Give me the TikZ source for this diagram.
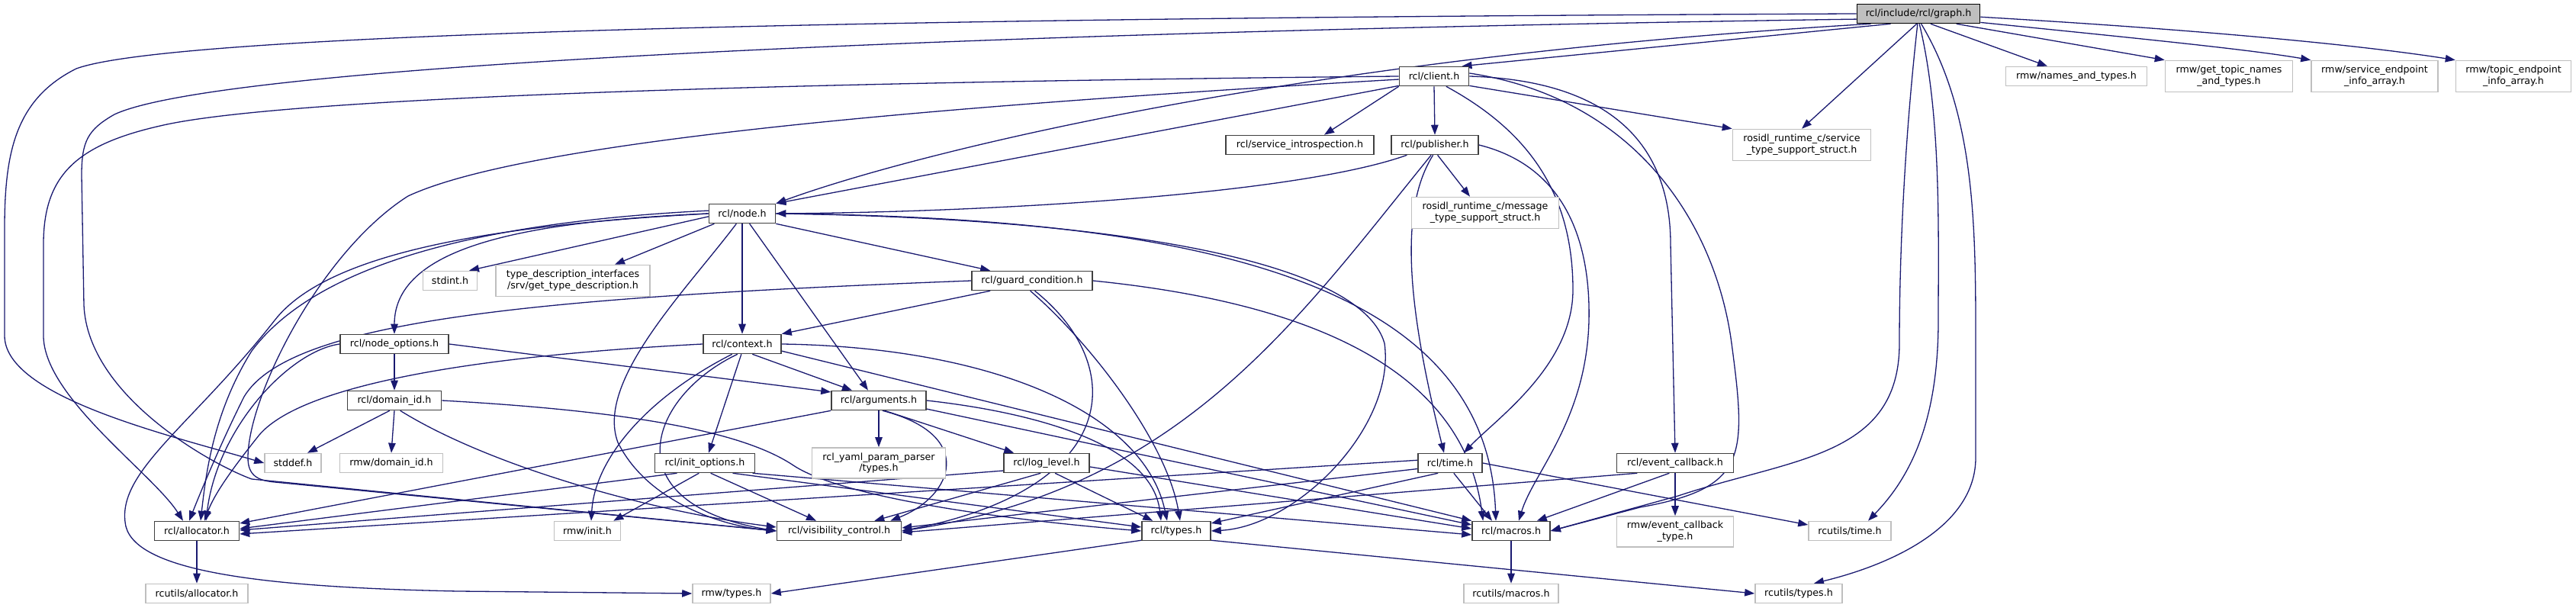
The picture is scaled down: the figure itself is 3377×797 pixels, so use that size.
\documentclass[tikz,border=0pt]{standalone}
\usepackage{fontspec}
\setmainfont{DejaVu Sans}
\usetikzlibrary{arrows.meta, calc}
\definecolor{edgeblue}{HTML}{191970}
\definecolor{boxgray}{HTML}{BFBFBF}
\pgfdeclarelayer{bg}
\pgfsetlayers{bg,main}
\tikzset{
  hdr/.style={draw=black!75, line width=0.45pt, fill=white, inner sep=0pt,
    minimum height=2.5mm, align=center, font=\fontsize{3.6}{4.25}\selectfont},
  sys/.style={hdr, draw=boxgray},
  mainhdr/.style={hdr, fill=boxgray, draw=black},
  dep/.style={draw=edgeblue, line width=0.37pt, -{Triangle[length=1.3mm, width=0.95mm]}},
}

\begin{document}
\begin{tikzpicture}[x=0.1mm, y=-0.1mm]
    \useasboundingbox (0,0) rectangle (3377,797);
    % Headers
    \node[mainhdr, minimum width=16.1mm] (graph) at (2515,18) {rcl/include/rcl/graph.h};
    \node[sys, minimum width=18.5mm] (names) at (2722,100) {rmw/names\_and\_types.h};
    \node[sys, minimum width=16.7mm, minimum height=4.1mm] (gettopic) at (2922,100) {rmw/get\_topic\_names\\\_and\_types.h};
    \node[sys, minimum width=16.6mm, minimum height=4.1mm] (srvendpoint) at (3113,100) {rmw/service\_endpoint\\\_info\_array.h};
    \node[sys, minimum width=15.1mm, minimum height=4.1mm] (topicendpoint) at (3295,100) {rmw/topic\_endpoint\\\_info\_array.h};
    \node[sys, minimum width=18.1mm, minimum height=4.1mm] (srvtype) at (2362,190) {rosidl\_runtime\_c/service\\\_type\_support\_struct.h};
    \node[hdr, minimum width=9.1mm] (client) at (1880,100) {rcl/client.h};
    \node[hdr, minimum width=19.4mm] (srvintro) at (1704,190) {rcl/service\_introspection.h};
    \node[hdr, minimum width=11.4mm] (publisher) at (1881,190) {rcl/publisher.h};
    \node[sys, minimum width=19.3mm, minimum height=4.1mm] (msgtype) at (1947,279) {rosidl\_runtime\_c/message\\\_type\_support\_struct.h};
    \node[hdr, minimum width=8.7mm] (rclnode) at (973,280) {rcl/node.h};
    \node[sys, minimum width=7.1mm] (stdint) at (590,368) {stdint.h};
    \node[sys, minimum width=20.2mm, minimum height=4.1mm] (typedesc) at (751,368) {type\_description\_interfaces\\/srv/get\_type\_description.h};
    \node[hdr, minimum width=15.8mm] (guard) at (1353,368) {rcl/guard\_condition.h};
    \node[hdr, minimum width=14.2mm] (nodeopt) at (517,451) {rcl/node\_options.h};
    \node[hdr, minimum width=10.2mm] (context) at (973,451) {rcl/context.h};
    \node[hdr, minimum width=12.3mm] (domainid) at (517,525) {rcl/domain\_id.h};
    \node[hdr, minimum width=12.4mm] (arguments) at (1152,525) {rcl/arguments.h};
    \node[sys, minimum width=7.4mm] (stddef) at (384,607) {stddef.h};
    \node[sys, minimum width=13.5mm] (rmwdomain) at (513,607) {rmw/domain\_id.h};
    \node[hdr, minimum width=13.1mm] (initopt) at (924,607) {rcl/init\_options.h};
    \node[sys, minimum width=17.5mm, minimum height=4mm] (yaml) at (1152,607) {rcl\_yaml\_param\_parser\\/types.h};
    \node[hdr, minimum width=11.2mm] (loglevel) at (1372,607) {rcl/log\_level.h};
    \node[hdr, minimum width=8.4mm] (rcltime) at (1901,607) {rcl/time.h};
    \node[hdr, minimum width=15.3mm] (evcb) at (2196,607) {rcl/event\_callback.h};
    \node[hdr, minimum width=11.1mm] (allocator) at (258,696) {rcl/allocator.h};
    \node[sys, minimum width=8.7mm] (rmwinit) at (770,696) {rmw/init.h};
    \node[hdr, minimum width=16.3mm] (visctl) at (1100,696) {rcl/visibility\_control.h};
    \node[hdr, minimum width=9mm] (rcltypes) at (1542,696) {rcl/types.h};
    \node[hdr, minimum width=10.2mm] (rclmacros) at (1981,696) {rcl/macros.h};
    \node[sys, minimum width=15.3mm, minimum height=4mm] (evcbtype) at (2196,697) {rmw/event\_callback\\\_type.h};
    \node[sys, minimum width=10.8mm] (rcutime) at (2425,696) {rcutils/time.h};
    \node[sys, minimum width=13.4mm] (rcualloc) at (258,778) {rcutils/allocator.h};
    \node[sys, minimum width=10.2mm] (rmwtypes) at (959,778) {rmw/types.h};
    \node[sys, minimum width=12.4mm] (rcumacros) at (1981,778) {rcutils/macros.h};
    \node[sys, minimum width=11.4mm] (rcutypes) at (2358,778) {rcutils/types.h};

    \begin{pgfonlayer}{bg}
    % graph.h
    \draw[dep] (graph.west) .. controls (1500,22) and (250,35) .. (100,90) .. controls (20,130) and (6,200) .. (6,300) -- (6,440) .. controls (6,520) and (220,570) .. (stddef.west);
    \draw[dep] (graph.185) .. controls (1400,40) and (300,80) .. (150,150) .. controls (115,170) and (107,185) .. (107,230) -- (110,400) .. controls (115,520) and (280,610) .. (330,628) -- (visctl.west);
    \draw[dep] (graph.192) .. controls (1700,75) and (1200,200) .. (rclnode.north east);
    \draw[dep] (graph.200) -- (client.20);
    \draw[dep] (graph.-100) -- (srvtype.north);
    \draw[dep] (graph.-40) -- ($(names.north)+(-38,0)$);
    \draw[dep] (graph.-15) -- (gettopic.north west);
    \draw[dep] (graph.-8) .. controls (2800,50) and (2950,65) .. (srvendpoint.north west);
    \draw[dep] (graph.-3) .. controls (2900,40) and (3100,60) .. (topicendpoint.north west);
    \draw[dep] (graph.-95) .. controls (2495,200) and (2490,350) .. (2490,450) .. controls (2490,600) and (2350,600) .. (2200,650) -- (rclmacros.east);
    \draw[dep] (graph.-85) .. controls (2545,150) and (2541,300) .. (2541,420) .. controls (2541,560) and (2500,630) .. ($(rcutime.north)+(24,0)$);
    \draw[dep] (graph.-75) .. controls (2590,150) and (2590,300) .. (2590,450) -- (2590,600) .. controls (2590,690) and (2480,740) .. ($(rcutypes.north)+(20,0)$);
    % client.h
    \draw[dep] (client.west) .. controls (1300,105) and (400,120) .. (210,165) .. controls (100,190) and (57,230) .. (57,320) -- (57,440) .. controls (57,520) and (200,620) .. ($(allocator.north)+(-18,0)$);
    \draw[dep] (client.185) .. controls (1300,135) and (700,180) .. (535,257) .. controls (420,330) and (325,520) .. (325,600) .. controls (325,625) and (340,630) .. (360,632) -- (visctl.west);
    \draw[dep] (client.195) -- (rclnode.north east);
    \draw[dep] (client.south west) -- ($(srvintro.north)+(32,0)$);
    \draw[dep] (client.south) -- (publisher.north);
    \draw[dep] (client.-15) -- (srvtype.north west);
    \draw[dep] (client.-40) .. controls (2000,170) and (2062,250) .. (2062,380) .. controls (2062,480) and (1960,550) .. ($(rcltime.north)+(18,0)$);
    \draw[dep] (client.east) .. controls (2100,105) and (2190,180) .. (2190,320) -- (evcb.north);
    \draw[dep] (client.5) .. controls (2150,130) and (2250,300) .. (2270,450) .. controls (2290,600) and (2290,640) .. (2150,665) -- (rclmacros.east);
    % publisher.h
    \draw[dep] (publisher.200) .. controls (1700,255) and (1300,278) .. (rclnode.east);
    \draw[dep] (publisher.-100) .. controls (1830,280) and (1850,420) .. ($(rcltime.north)+(-8,0)$);
    \draw[dep] (publisher.-110) .. controls (1700,420) and (1550,640) .. (visctl.east);
    \draw[dep] (publisher.-75) -- ($(msgtype.north)+(-20,0)$);
    \draw[dep] (publisher.east) .. controls (2060,220) and (2085,330) .. (2083,420) .. controls (2080,550) and (2010,620) .. ($(rclmacros.north)+(10,0)$);
    % node.h
    \draw[dep] (rclnode.west) .. controls (700,290) and (517,320) .. (nodeopt.north);
    \draw[dep] (rclnode.185) -- ($(stdint.north)+(25,0)$);
    \draw[dep] (rclnode.200) -- ($(typedesc.north)+(55,0)$);
    \draw[dep] (rclnode.175) .. controls (650,290) and (420,340) .. (330,460) .. controls (280,540) and (270,620) .. ($(allocator.north)+(5,0)$);
    \draw[dep] (rclnode.180) .. controls (650,295) and (430,330) .. (360,420) .. controls (250,560) and (150,620) .. (165,690) .. controls (180,750) and (350,770) .. (600,775) -- (rmwtypes.west);
    \draw[dep] (rclnode.south) -- (context.north);
    \draw[dep] (rclnode.-54) -- ($(arguments.north)+(-14,0)$);
    \draw[dep] (rclnode.south east) -- ($(guard.north west)+(25,0)$);
    \draw[dep] (rclnode.-120) .. controls (900,380) and (780,500) .. (810,580) .. controls (850,660) and (950,690) .. (visctl.west);
    \draw[dep] (rclnode.east) .. controls (1400,285) and (1780,330) .. (1815,450) .. controls (1830,560) and (1700,690) .. (rcltypes.east);
    \draw[dep] (rclnode.east) .. controls (1600,285) and (1950,380) .. ($(rclmacros.north)+(-20,0)$);
    % guard_condition.h
    \draw[dep] (guard.west) .. controls (700,390) and (380,420) .. (320,520) .. controls (290,580) and (265,640) .. ($(allocator.north)+(-10,0)$);
    \draw[dep] ($(guard.south west)+(25,0)$) -- (context.north east);
    \draw[dep] (guard.-100) .. controls (1430,450) and (1530,580) .. ($(rcltypes.north)+(5,0)$);
    \draw[dep] (guard.-75) .. controls (1480,480) and (1470,640) .. (visctl.east);
    \draw[dep] (guard.east) .. controls (1750,400) and (1920,500) .. ($(rclmacros.north west)+(15,0)$);
    % node_options.h
    \draw[dep] (nodeopt.west) .. controls (380,460) and (285,560) .. ($(allocator.north)+(12,0)$);
    \draw[dep] (nodeopt.south) -- (domainid.north);
    \draw[dep] (nodeopt.east) -- (arguments.170);
    % domain_id.h
    \draw[dep] (domainid.-115) -- ($(stddef.north)+(19,0)$);
    \draw[dep] (domainid.south) -- (rmwdomain.north);
    \draw[dep] (domainid.-60) .. controls (640,610) and (850,670) .. ($(visctl.west)+(0,-5)$);
    \draw[dep] (domainid.east) .. controls (850,540) and (980,570) .. (1040,610) .. controls (1100,650) and (1300,680) .. (rcltypes.west);
    % context.h
    \draw[dep] (context.west) .. controls (650,465) and (400,500) .. (340,570) .. controls (300,620) and (280,650) .. ($(allocator.north)+(10,0)$);
    \draw[dep] (context.-135) .. controls (850,520) and (780,600) .. ($(rmwinit.north)+(5,0)$);
    \draw[dep] (context.-115) .. controls (850,520) and (800,660) .. (visctl.west);
    \draw[dep] (context.-95) -- ($(initopt.north)+(5,0)$);
    \draw[dep] (context.-45) -- ($(arguments.north)+(-35,0)$);
    \draw[dep] (context.east) .. controls (1300,455) and (1500,540) .. ($(rcltypes.north)+(-12,0)$);
    \draw[dep] (context.-10) -- (rclmacros.north west);
    % arguments.h
    \draw[dep] (arguments.south west) -- ($(allocator.east)+(0,-10)$);
    \draw[dep] (arguments.south) -- (yaml.north);
    \draw[dep] (arguments.-60) -- ($(loglevel.north west)+(14,0)$);
    \draw[dep] (arguments.-70) .. controls (1280,570) and (1250,650) .. ($(visctl.north east)+(-15,0)$);
    \draw[dep] (arguments.east) .. controls (1350,540) and (1510,580) .. ($(rcltypes.north)+(-20,0)$);
    \draw[dep] (arguments.-10) -- ($(rclmacros.west)+(0,-8)$);
    % init_options.h
    \draw[dep] (initopt.200) -- ($(allocator.east)+(0,-3)$);
    \draw[dep] (initopt.-120) -- ($(rmwinit.north east)+(-10,0)$);
    \draw[dep] (initopt.-60) -- ($(visctl.north)+(-30,0)$);
    \draw[dep] (initopt.-20) -- ($(rcltypes.west)+(0,-5)$);
    \draw[dep] (initopt.-12) -- ($(rclmacros.west)+(0,5)$);
    % log_level.h
    \draw[dep] (loglevel.190) -- ($(allocator.east)+(0,-1)$);
    \draw[dep] (loglevel.-120) -- ($(visctl.north east)+(-36,0)$);
    \draw[dep] (loglevel.-50) -- ($(rcltypes.north west)+(15,0)$);
    \draw[dep] (loglevel.-5) -- ($(rclmacros.west)+(0,-3)$);
    % time.h
    \draw[dep] (rcltime.175) -- ($(allocator.east)+(0,4)$);
    \draw[dep] (rcltime.190) -- ($(visctl.east)+(0,-4)$);
    \draw[dep] (rcltime.-140) -- ($(rcltypes.east)+(0,-10)$);
    \draw[dep] (rcltime.-70) -- ($(rclmacros.north)+(-25,0)$);
    \draw[dep] (rcltime.east) -- ($(rcutime.west)+(0,-8)$);
    % event_callback.h
    \draw[dep] (evcb.195) -- ($(visctl.east)+(0,2)$);
    \draw[dep] (evcb.-120) -- ($(rclmacros.north east)+(-18,0)$);
    \draw[dep] (evcb.south) -- (evcbtype.north);
    % bottom row
    \draw[dep] (allocator.south) -- (rcualloc.north);
    \draw[dep] (rcltypes.-165) -- (rmwtypes.east);
    \draw[dep] (rcltypes.-15) -- (rcutypes.west);
    \draw[dep] (rclmacros.south) -- (rcumacros.north);
    \end{pgfonlayer}
\end{tikzpicture}
\end{document}
